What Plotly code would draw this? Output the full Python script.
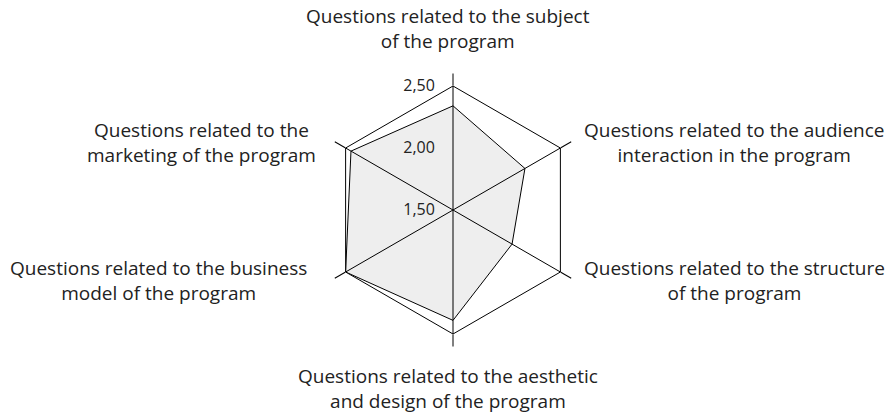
import plotly.graph_objects as go

# categories around the radar, clockwise from the top
categories = [
    "Questions related to the subject<br>of the program",
    "Questions related to the audience<br>interaction in the program",
    "Questions related to the structure<br>of the program",
    "Questions related to the aesthetic<br>and design of the program",
    "Questions related to the business<br>model of the program",
    "Questions related to the<br>marketing of the program",
]
scores = [2.34, 2.17, 2.05, 2.39, 2.50, 2.45]
radial_ticks = [1.5, 2.0, 2.5]

# label positions (paper coords) for each category
label_x = [0.503, 0.824, 0.824, 0.503, 0.178, 0.226]
label_y = [0.930, 0.655, 0.320, 0.059, 0.320, 0.655]

FONT = "Open Sans"

fig = go.Figure()
fig.add_trace(go.Scatterpolar(
    r=scores + scores[:1],
    theta=list(range(len(scores))) + [0],
    mode="lines",
    fill="toself",
    fillcolor="rgba(0,0,0,0.067)",  # see-through so the spokes show
    line=dict(color="black", width=1),
    showlegend=False,
    hoverinfo="skip",
))

fig.update_layout(
    width=891, height=413,
    margin=dict(l=0, r=0, t=0, b=0),
    paper_bgcolor="white",
    separators=", ",
    font=dict(family=FONT, size=19, color="#222"),
    polar=dict(
        domain=dict(x=[329 / 891, 577 / 891], y=[79 / 413, 327 / 413]),
        bgcolor="white",
        gridshape="linear",
        angularaxis=dict(
            type="category",
            categoryarray=list(range(len(scores))),
            rotation=90, direction="clockwise",
            showline=True, linecolor="black", linewidth=1,
            showgrid=True, gridcolor="black", gridwidth=1,
            ticks="outside", ticklen=12, tickcolor="black", tickwidth=1,
            showticklabels=False,
        ),
        radialaxis=dict(
            range=[1.5, 2.5], tickvals=radial_ticks, tickformat=".2f",
            angle=90, side="counterclockwise", tickangle=90,
            showline=False, showgrid=False,
            ticks="outside", ticklen=12, tickcolor="rgba(0,0,0,0)",
            tickfont=dict(family=FONT, size=16, color="#222"),
        ),
    ),
)

for txt, x, y in zip(categories, label_x, label_y):
    fig.add_annotation(text=txt, x=x, y=y, xref="paper", yref="paper",
                       showarrow=False, align="center",
                       xanchor="center", yanchor="middle",
                       font=dict(family=FONT, size=19, color="#222"))

fig.write_html("out.html", config={"displayModeBar": False},
               post_script="document.body.style.margin='0';")
